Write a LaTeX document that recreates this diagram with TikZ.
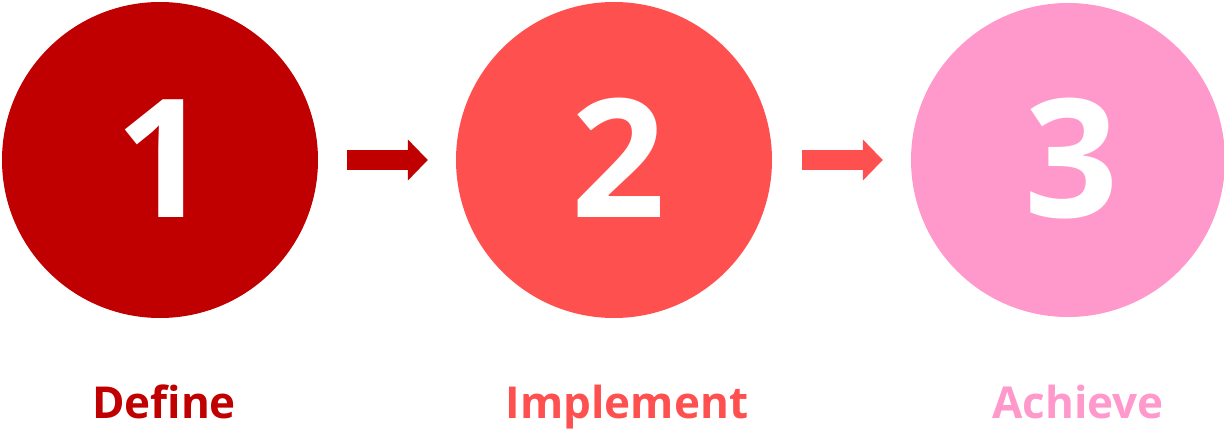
\documentclass[tikz,border=0pt]{standalone}
\usepackage{fontspec}
\setmainfont{Open Sans}
\usetikzlibrary{arrows.meta}
\definecolor{cA}{HTML}{C00000}
\definecolor{cB}{HTML}{FF5050}
\definecolor{cC}{HTML}{FF99CC}
\tikzset{
  disc/.style={circle, minimum size=#1, inner sep=0pt, draw=none},
  digit/.style={anchor=base, text=white, font=\fontsize{165}{165}\selectfont\bfseries, inner sep=0pt},
  lbl/.style={anchor=base, font=\fontsize{44}{44}\selectfont\bfseries, inner sep=0pt},
  arr/.style={line width=20pt, line cap=butt, -{Triangle[width=40pt,length=20pt]}, shorten <=29pt, shorten >=28pt}
}
\begin{document}
\begin{tikzpicture}[x=1pt,y=-1pt]
\useasboundingbox (0,0) rectangle (1224,431);
\node[disc=316pt, fill=cA] (c1) at (160,160) {};
\node[disc=316pt, fill=cB] (c2) at (614,160) {};
\node[disc=314pt, fill=cC] (c3) at (1068,160) {};
\node[digit] (d1) at (163,217) {1};
\node[digit] (d2) at (619,217) {2};
\node[digit] (d3) at (1072,217) {3};
\draw[arr, cA] (c1) -- (c2);
\draw[arr, cB, shorten <=30pt] (c2) -- (c3);
\node[lbl, text=cA] (l1) at (164,418) {Define};
\node[lbl, text=cB] (l2) at (627,418) {Implement};
\node[lbl, text=cC] (l3) at (1078,418) {Achieve};
\end{tikzpicture}
\end{document}
